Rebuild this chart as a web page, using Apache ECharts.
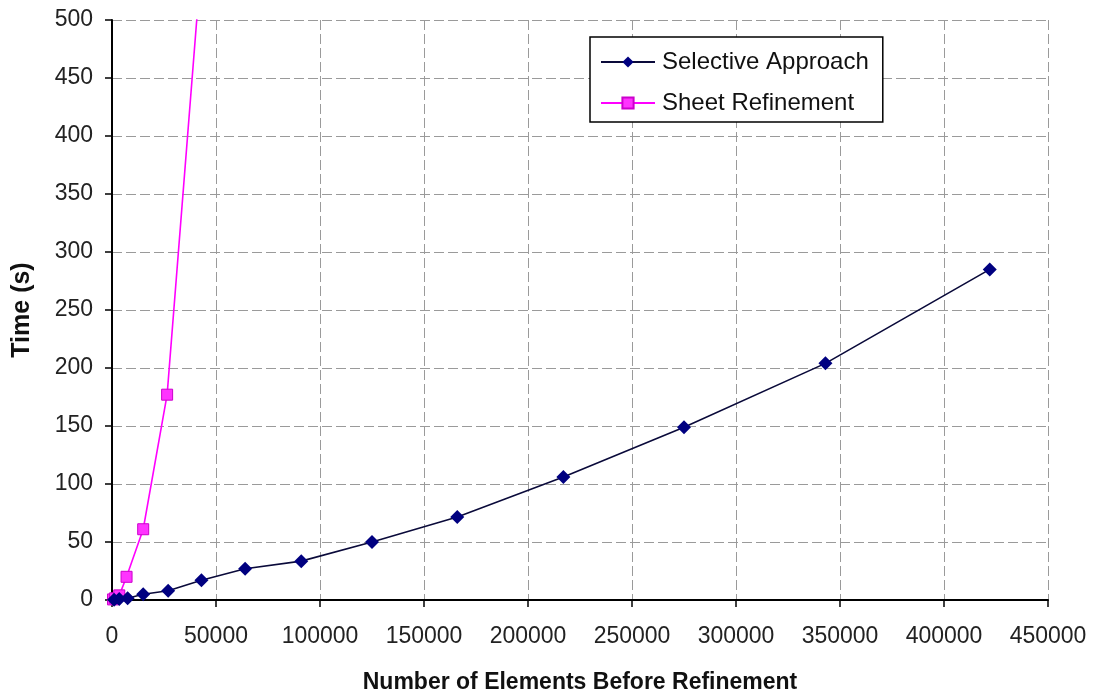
<!DOCTYPE html>
<html>
<head>
<meta charset="utf-8">
<style>
  html, body { margin: 0; padding: 0; background: #fff; }
  #chart { width: 1093px; height: 696px; }
</style>
<script src="https://cdn.jsdelivr.net/npm/echarts@6/dist/echarts.min.js"></script>
</head>
<body>
<div id="chart"></div>
<script>
// Run time against mesh size for two refinement strategies
const seriesNames = ['Selective Approach', 'Sheet Refinement'];

// Selective Approach: [elements, seconds]
const selectiveElements = [1000, 3500, 7500, 15000, 27000, 43000, 64000, 91000, 125000, 166000, 217000, 275000, 343000, 422000];
const selectiveTimes    = [0.3, 0.8, 1.5, 5, 8, 17, 27, 33.5, 50, 71.5, 106, 149, 204, 285];

// Sheet Refinement: last point lies above the time axis range
const sheetElements = [500, 1500, 3500, 7000, 15000, 26500, 42500];
const sheetTimes    = [0.5, 1.5, 4, 20, 61, 177, 540];

const yTicks = { min: 0, max: 500, interval: 50 };
const xTicks = { min: 0, max: 450000, interval: 50000 };

const pair = (xs, ys) => xs.map((x, i) => [x, ys[i]]);

const font = '"Liberation Sans", Arial, sans-serif';
const gridLine = { show: true, lineStyle: { color: '#9a9a9a', type: [10, 4], width: 1 } };

const chart = echarts.init(document.getElementById('chart'), null, { renderer: 'canvas' });
chart.setOption({
  backgroundColor: '#ffffff',
  animation: false,
  grid: { left: 112, right: 45, top: 20, bottom: 96, containLabel: false, outerBoundsMode: 'none' },
  legend: {
    orient: 'vertical',
    left: 590,
    top: 37,
    width: 270,
    padding: [13, 14, 7, 10],
    itemWidth: 54,
    itemHeight: 14,
    itemGap: 17,
    borderColor: '#000',
    borderWidth: 1.5,
    backgroundColor: '#fff',
    textStyle: { fontFamily: font, fontSize: 24, color: '#111', padding: [0, 0, 0, 2] },
    data: seriesNames
  },
  xAxis: {
    type: 'value',
    min: xTicks.min, max: xTicks.max, interval: xTicks.interval,
    name: 'Number of Elements Before Refinement',
    nameLocation: 'middle',
    nameGap: 71,
    nameTextStyle: { fontFamily: font, fontSize: 23, fontWeight: 'bold', color: '#111' },
    axisLine: { show: true, lineStyle: { color: '#000', width: 2 } },
    axisTick: { show: true, length: 7, lineStyle: { color: '#000', width: 1.5 } },
    axisLabel: { fontFamily: font, fontSize: 23, color: '#222', margin: 25, formatter: v => String(v) },
    splitLine: gridLine
  },
  yAxis: {
    type: 'value',
    min: yTicks.min, max: yTicks.max, interval: yTicks.interval,
    name: 'Time (s)',
    nameLocation: 'middle',
    nameGap: 77,
    nameRotate: 90,
    nameTextStyle: { fontFamily: font, fontSize: 25, fontWeight: 'bold', color: '#111' },
    axisLine: { show: true, lineStyle: { color: '#000', width: 2 } },
    axisTick: { show: true, length: 7, lineStyle: { color: '#000', width: 1.5 } },
    axisLabel: { fontFamily: font, fontSize: 23, color: '#222', margin: 19, formatter: v => String(v) },
    splitLine: gridLine
  },
  series: [
    {
      name: seriesNames[0],
      type: 'line',
      data: pair(selectiveElements, selectiveTimes),
      symbol: 'diamond',
      symbolSize: 14,
      lineStyle: { color: '#0a0a3a', width: 1.6 },
      itemStyle: { color: '#000080' },
      z: 3
    },
    {
      name: seriesNames[1],
      type: 'line',
      data: pair(sheetElements, sheetTimes),
      symbol: 'rect',
      symbolSize: 11,
      clip: true,
      lineStyle: { color: '#ff00ff', width: 1.6 },
      itemStyle: { color: '#ff33ff', borderColor: '#cc00cc', borderWidth: 1 },
      z: 2
    }
  ]
});
</script>
</body>
</html>
